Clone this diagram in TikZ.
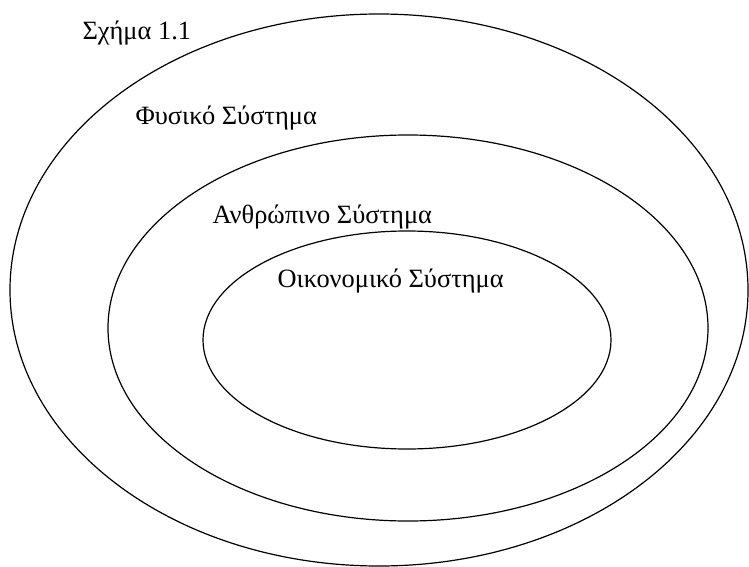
\documentclass[tikz,border=0pt]{standalone}
\usepackage{fontspec}
\setmainfont{Liberation Serif}
\usepackage{tikz}
\usetikzlibrary{positioning}

\begin{document}
\begin{tikzpicture}[x=0.5pt, y=-0.5pt, line width=0.6pt]
  \tikzset{label/.style={inner sep=0pt, anchor=base west, font=\fontsize{13.2}{15}\selectfont}}
  \useasboundingbox (0,0) rectangle (749,567);

  % nested systems
  \draw (379,290) ellipse [x radius=369, y radius=276];
  \draw (408,328) ellipse [x radius=300, y radius=193];
  \draw (407,340) ellipse [x radius=204, y radius=109];

  \node[label] (title) at (82,40) {Σχήμα 1.1};
  \node[label] (fys) at (135,125) {Φυσικό Σύστημα};
  \node[label] (anth) at (212,223) {Ανθρώπινο Σύστημα};
  \node[label] (oik) at (277,287) {Οικονομικό Σύστημα};
\end{tikzpicture}
\end{document}
